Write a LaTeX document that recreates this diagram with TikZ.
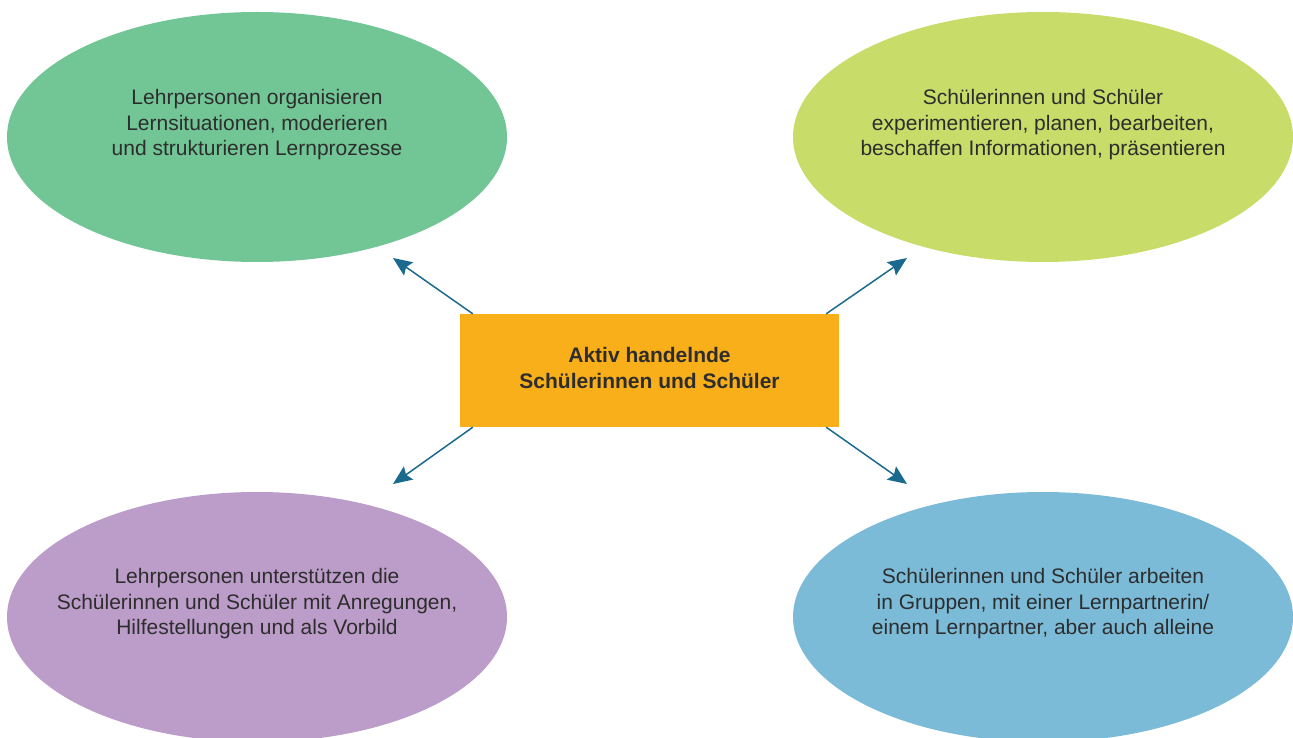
\documentclass[tikz,border=0pt]{standalone}
\usepackage{fontspec}
\setmainfont{Liberation Sans}
\usetikzlibrary{shapes.geometric,arrows.meta}

\definecolor{cgreen}{HTML}{72C696}
\definecolor{clime}{HTML}{C8DC6A}
\definecolor{cviolet}{HTML}{BC9DCA}
\definecolor{cblue}{HTML}{7BBBD8}
\definecolor{corange}{HTML}{F9AF1A}
\definecolor{carrow}{HTML}{1A6A8E}
\definecolor{ctext}{HTML}{2D2D2D}

\tikzset{
  bubble/.style={ellipse, draw=none, inner sep=0pt,
    minimum width=500pt, minimum height=250pt},
  bubbletext/.style={align=center, text=ctext, inner sep=0pt,
    font=\fontsize{21pt}{25.5pt}\selectfont},
  centerbox/.style={rectangle, fill=corange, draw=none, inner sep=0pt,
    minimum width=379pt, minimum height=113pt, text=ctext},
  boxtext/.style={align=center, text=ctext, inner sep=0pt,
    font=\fontsize{21pt}{26pt}\selectfont\bfseries},
  link/.style={draw=carrow, line width=1.5pt,
    -{Stealth[length=19pt, width=16pt, inset=3pt]}},
}

\begin{document}
\begin{tikzpicture}[x=1pt, y=-1pt]
  \useasboundingbox (0,0) rectangle (1293,738);
  \begin{scope}
    \clip (0,0) rectangle (1293,738);
    % four ellipses
    \node[bubble, fill=cgreen]  (tl) at (257,137) {};
    \node[bubble, fill=clime]   (tr) at (1043,137) {};
    \node[bubble, fill=cviolet] (bl) at (257,617) {};
    \node[bubble, fill=cblue]   (br) at (1043,617) {};
  \end{scope}

  % ellipse texts, set a little above each centre
  \node[bubbletext] (tltext) at ([yshift=12pt]tl.center)
    {Lehrpersonen organisieren\\Lernsituationen, moderieren\\und strukturieren Lernprozesse};
  \node[bubbletext] (trtext) at ([yshift=12pt]tr.center)
    {Schülerinnen und Schüler\\experimentieren, planen, bearbeiten,\\beschaffen Informationen, präsentieren};
  \node[bubbletext] (bltext) at ([yshift=13pt]bl.center)
    {Lehrpersonen unterstützen die\\Schülerinnen und Schüler mit Anregungen,\\Hilfestellungen und als Vorbild};
  \node[bubbletext] (brtext) at ([yshift=13pt]br.center)
    {Schülerinnen und Schüler arbeiten\\in Gruppen, mit einer Lernpartnerin/\\einem Lernpartner, aber auch alleine};

  % central box and its title
  \node[centerbox] (box) at (649.5,370.5) {};
  \node[boxtext] (boxtitle) at ([yshift=3pt]box.center)
    {Aktiv handelnde\\Schülerinnen und Schüler};

  % arrow tips
  \coordinate (tlend) at (393,258);
  \coordinate (trend) at (907,258);
  \coordinate (blend) at (393,484);
  \coordinate (brend) at (907,484);

  \draw[link] ([xshift=13pt]box.north west) -- (tlend);
  \draw[link] ([xshift=-13pt]box.north east) -- (trend);
  \draw[link] ([xshift=13pt]box.south west) -- (blend);
  \draw[link] ([xshift=-13pt]box.south east) -- (brend);
\end{tikzpicture}
\end{document}
